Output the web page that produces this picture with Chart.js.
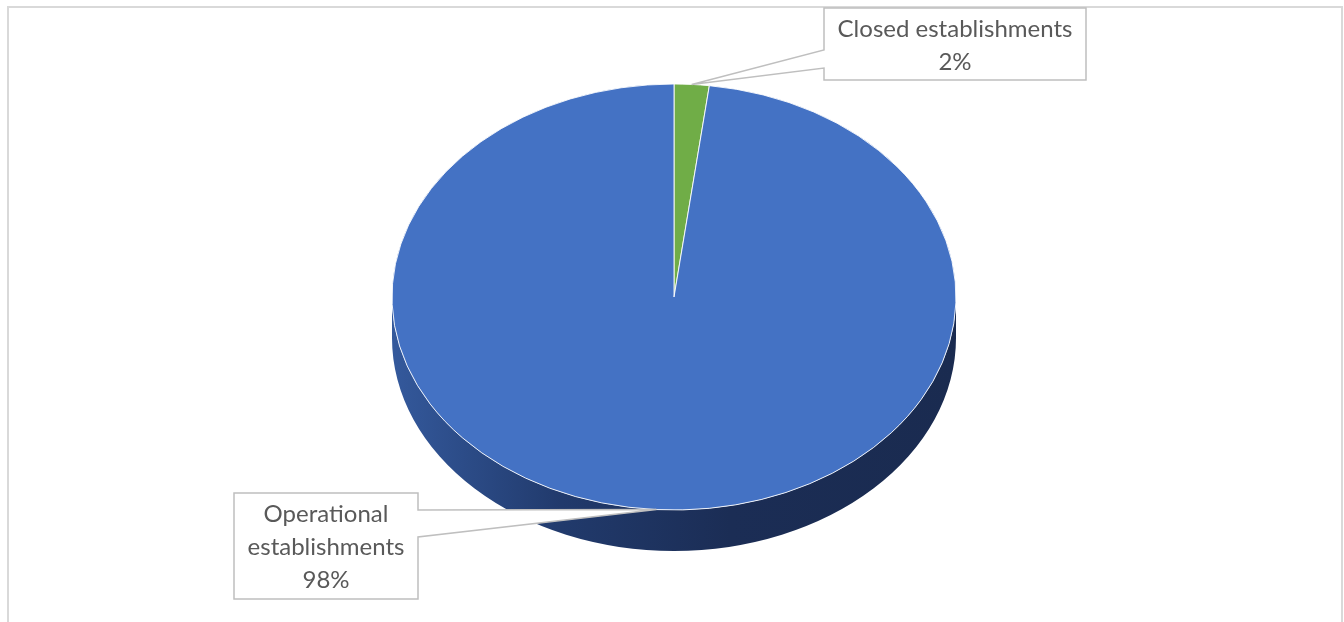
<!DOCTYPE html>
<html>
<head>
<meta charset="utf-8">
<script src="https://cdn.jsdelivr.net/npm/chart.js@4/dist/chart.umd.min.js"></script>
<style>
  body { margin: 0; background: #fff; }
  canvas { display: block; }
</style>
</head>
<body>
<canvas id="chart" width="1344" height="622"></canvas>
<script>
// data (Excel starts at 12 o'clock, clockwise)
const categories = ['Closed establishments', 'Operational establishments'];
const shares = [2, 98];
const sliceColors = ['#70AD47', '#4472C4'];

const squash = 213 / 282;   // top of the pie is an ellipse
const depth = 41;           // thickness of the 3D side
const textColor = '#595959';
const boxLine = '#bfbfbf';
const labelFont = '24px Lato';

// where the callout boxes sit
const callouts = [
  { box: [824, 8, 1086, 80], side: 'left', wedge: [50, 68], lines: ['Closed establishments', '2%'], textY: [29, 62] },
  { box: [234, 493, 418, 599], side: 'right', wedge: [510, 537], lines: ['Operational', 'establishments', '98%'], textY: [514, 547, 580] }
];

const pie3d = {
  id: 'pie3d',
  beforeDraw(chart) {
    const c = chart.ctx;
    c.save();
    c.strokeStyle = '#d9d9d9';
    c.lineWidth = 2;
    c.strokeRect(8, 7, 1334, 700);
    c.restore();
  },
  beforeDatasetsDraw(chart) {
    const c = chart.ctx;
    const arc = chart.getDatasetMeta(0).data[0];
    const cx = arc.x, cy = arc.y, rx = arc.outerRadius, ry = rx * squash;
    // side band
    c.save();
    const g = c.createLinearGradient(cx - rx, 0, cx + rx, 0);
    g.addColorStop(0, '#34599c');
    g.addColorStop(0.3, '#213a6c');
    g.addColorStop(0.6, '#1b2d55');
    g.addColorStop(1, '#1a2b50');
    c.fillStyle = g;
    c.beginPath();
    c.ellipse(cx, cy, rx, ry, 0, 0, Math.PI);
    c.lineTo(cx - rx, cy + depth);
    c.ellipse(cx, cy + depth, rx, ry, 0, Math.PI, 0, true);
    c.closePath();
    c.fill();
    c.restore();
    // squash the top
    c.save();
    c.translate(cx, cy);
    c.scale(1, squash);
    c.translate(-cx, -cy);
  },
  afterDatasetsDraw(chart) {
    chart.ctx.restore();
  },
  afterDraw(chart) {
    const c = chart.ctx;
    const meta = chart.getDatasetMeta(0);
    c.save();
    callouts.forEach((co, i) => {
      const arc = meta.data[i];
      const mid = (arc.startAngle + arc.endAngle) / 2;
      const px = arc.x + arc.outerRadius * Math.cos(mid);
      const py = arc.y + arc.outerRadius * squash * Math.sin(mid);
      const [x0, y0, x1, y1] = co.box;
      c.beginPath();
      if (co.side === 'left') {
        c.moveTo(x0, y0);
        c.lineTo(x0, co.wedge[0]);
        c.lineTo(px, py);
        c.lineTo(x0, co.wedge[1]);
        c.lineTo(x0, y1);
        c.lineTo(x1, y1);
        c.lineTo(x1, y0);
      } else {
        c.moveTo(x0, y0);
        c.lineTo(x1, y0);
        c.lineTo(x1, co.wedge[0]);
        c.lineTo(px, py);
        c.lineTo(x1, co.wedge[1]);
        c.lineTo(x1, y1);
        c.lineTo(x0, y1);
      }
      c.closePath();
      c.fillStyle = '#fff';
      c.fill();
      c.strokeStyle = boxLine;
      c.lineWidth = 1.5;
      c.stroke();
      c.fillStyle = textColor;
      c.font = labelFont;
      c.textAlign = 'center';
      c.textBaseline = 'middle';
      co.lines.forEach((t, k) => c.fillText(t, (x0 + x1) / 2, co.textY[k]));
    });
    c.restore();
  }
};

new Chart(document.getElementById('chart'), {
  type: 'pie',
  data: {
    labels: categories,
    datasets: [{
      data: shares,
      backgroundColor: sliceColors,
      borderColor: '#ffffff',
      borderWidth: 1
    }]
  },
  options: {
    responsive: false,
    animation: false,
    devicePixelRatio: 1,
    radius: 282,
    layout: { padding: { left: 4, right: 0, top: 15, bottom: 43 } },
    plugins: { legend: { display: false }, tooltip: { enabled: false } }
  },
  plugins: [pie3d]
});
</script>
</body>
</html>
